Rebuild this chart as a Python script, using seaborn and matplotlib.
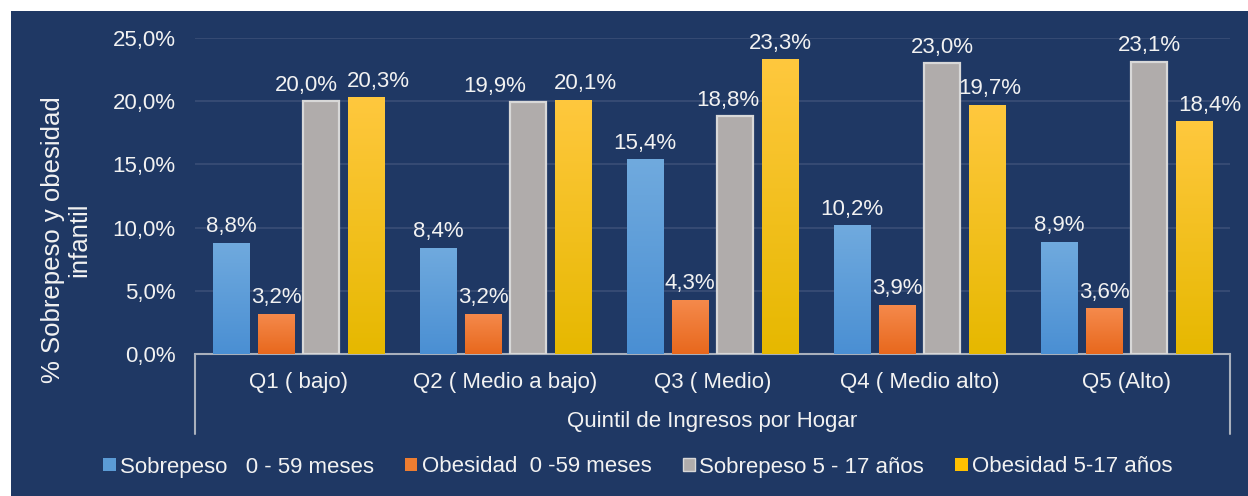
import numpy as np
import pandas as pd
import matplotlib
matplotlib.use("Agg")
import matplotlib.pyplot as plt
from matplotlib.colors import LinearSegmentedColormap
from matplotlib.patches import Rectangle
import seaborn as sns

# Data: child overweight / obesity by household income quintile (%)
categories = ["Q1 ( bajo)", "Q2 ( Medio a bajo)", "Q3 ( Medio)", "Q4 ( Medio alto)", "Q5 (Alto)"]
series = ["Sobrepeso   0 - 59 meses", "Obesidad  0 -59 meses",
          "Sobrepeso 5 - 17 años", "Obesidad 5-17 años"]
sobrepeso_0_59 = [8.8, 8.4, 15.4, 10.2, 8.9]
obesidad_0_59 = [3.2, 3.2, 4.3, 3.9, 3.6]
sobrepeso_5_17 = [20.0, 19.9, 18.8, 23.0, 23.1]
obesidad_5_17 = [20.3, 20.1, 23.3, 19.7, 18.4]
y_ticks = [0, 5, 10, 15, 20, 25]

values = [sobrepeso_0_59, obesidad_0_59, sobrepeso_5_17, obesidad_5_17]
df = pd.DataFrame({
    "quintil": np.tile(categories, len(series)),
    "serie": np.repeat(series, len(categories)),
    "valor": np.concatenate(values),
})

BG = "#1f3864"
TXT = "#f2f2f2"
base_colors = ["#5b9bd5", "#ed7d31", "#b0acab", "#ffc000"]
# (bottom, top) colours for the vertical gradient fills; None = flat fill
gradients = [("#4a8fd3", "#70aade"), ("#e8681d", "#f58a4c"), None, ("#e6b800", "#ffc83e")]
# horizontal nudges (px) that keep neighbouring value labels apart
label_shift = {(2, 0): -15, (3, 0): 12, (2, 1): -33, (3, 1): 12,
               (2, 2): -7, (3, 3): 3, (3, 4): 16}

sns.set_style("white")
plt.rcParams["font.family"] = ["Liberation Sans", "DejaVu Sans"]
FS = 16

W, H = 1248, 496
fig = plt.figure(figsize=(W / 100, H / 100), dpi=100, facecolor="white")
fig.patches.append(Rectangle((11 / W, 0), 1, 1 - 11 / H, transform=fig.transFigure,
                             facecolor=BG, edgecolor="none", zorder=-10))

left, right, bottom, top = 195, 1230, 354, 38
ax = fig.add_axes([left / W, 1 - bottom / H, (right - left) / W, (bottom - top) / H])
ax.set_facecolor(BG)
ax.patch.set_alpha(0)

sns.barplot(data=df, x="quintil", y="valor", hue="serie", order=categories,
            hue_order=series, palette=base_colors, width=0.87, gap=0.18,
            saturation=1, ax=ax, legend=False, zorder=3)

for i, cont in enumerate(ax.containers):
    for patch in cont.patches:
        if i == 2:
            patch.set_edgecolor("#d8d8d8")
            patch.set_linewidth(1.6)
        else:
            patch.set_edgecolor("none")
        g = gradients[i]
        if g is not None:
            x0, y0 = patch.get_x(), patch.get_y()
            w, h = patch.get_width(), patch.get_height()
            cmap = LinearSegmentedColormap.from_list(f"g{i}", [g[0], g[1]])
            im = ax.imshow(np.linspace(0, 1, 256).reshape(-1, 1), cmap=cmap,
                           extent=[x0, x0 + w, y0, y0 + h], origin="lower",
                           aspect="auto", zorder=3.5)
            im.set_clip_path(patch)
    labels = [f"{v:.1f}".replace(".", ",") + "%" for v in values[i]]
    texts = ax.bar_label(cont, labels=labels, padding=4, color=TXT, fontsize=FS)
    for j, t in enumerate(texts):
        dx = label_shift.get((i, j), 0)
        if dx:
            t.xyann = (dx * 0.72, t.xyann[1])

ax.set_xlim(-0.5, len(categories) - 0.5)
ax.set_ylim(0, 25)
ax.set_yticks(y_ticks)
ax.set_yticklabels([f"{t:.1f}".replace(".", ",") + "%" for t in y_ticks])
ax.yaxis.grid(True, color="#3a4e77", linewidth=1.2, zorder=0)
ax.xaxis.grid(False)
ax.set_axisbelow(True)
ax.tick_params(axis="y", length=0, pad=14, labelcolor=TXT, labelsize=FS)
ax.tick_params(axis="x", length=0, pad=13, labelcolor=TXT, labelsize=FS)
ax.set_xlabel("")
ax.set_ylabel("")
for s in ["top", "right", "left"]:
    ax.spines[s].set_visible(False)
ax.spines["bottom"].set_color("#a9b0bc")
ax.spines["bottom"].set_linewidth(1.5)

# category axis frame (side walls below the baseline)
depth = -(434 - bottom) / (bottom - top)
for xa in (0, 1):
    ax.plot([xa, xa], [0, depth], transform=ax.transAxes, color="#a9b0bc",
            linewidth=1.5, clip_on=False)

ax.text(0.5, -(421 - bottom) / (bottom - top), "Quintil de Ingresos por Hogar",
        transform=ax.transAxes, ha="center", va="center", color=TXT, fontsize=FS)

fig.text(66 / W, 1 - 240 / H, "% Sobrepeso y obesidad\ninfantil", rotation=90,
         ha="center", va="center", multialignment="center", linespacing=1.15,
         color=TXT, fontsize=18.5)

handles = [Rectangle((0, 0), 1, 1, facecolor=c,
                     edgecolor="#d8d8d8" if k == 2 else "none", linewidth=1)
           for k, c in enumerate(base_colors)]
leg = fig.legend(handles, series, loc="center", bbox_to_anchor=(638 / W, 1 - 467 / H),
                 ncol=4, frameon=False, fontsize=FS, labelcolor=TXT,
                 handlelength=0.55, handleheight=0.55, handletextpad=0.2,
                 columnspacing=1.4)

fig.savefig("out.png", dpi=100, facecolor="white")
